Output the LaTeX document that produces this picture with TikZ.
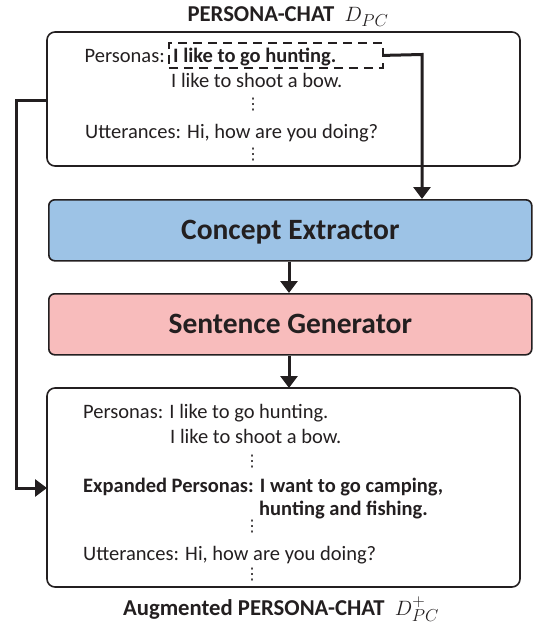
\documentclass[tikz,border=0pt]{standalone}
\usepackage{fontspec}
\setmainfont{Carlito}
\newfontfamily\dotsfont{DejaVu Sans}
\usetikzlibrary{arrows.meta}
\definecolor{ceblue}{HTML}{9DC3E6}
\definecolor{sgpink}{HTML}{F8BCBC}
\definecolor{ink}{HTML}{231F20}
\tikzset{
  x=1pt, y=-1pt,
  panel/.style={draw=ink, line width=1.6pt, rounded corners=8pt},
  modbox/.style={draw=ink, line width=1.6pt, rounded corners=6pt, font=\fontsize{29.5}{34}\selectfont\bfseries, text=ink, text height=19pt, text depth=0pt, inner sep=0pt},
  txt/.style={font=\fontsize{20.5}{24}\selectfont, text=ink, inner sep=0pt},
  btxt/.style={txt, font=\fontsize{20.5}{24}\selectfont\bfseries},
  ttl/.style={font=\fontsize{22.7}{26}\selectfont\bfseries, text=ink, inner sep=0pt},
  conn/.style={draw=ink, line width=3pt, -{Triangle[length=12pt,width=17pt]}},
  vd/.style={font=\dotsfont\fontsize{16}{16}\selectfont, text=ink, inner sep=0pt}
}
\begin{document}
\begin{tikzpicture}
\useasboundingbox (0,0) rectangle (533,626);
% titles
\node[ttl, anchor=base] (t1) at (288,22) {PERSONA-CHAT\ \ $D_{PC}$};
\node[ttl, anchor=base] (t2) at (281,615) {Augmented PERSONA-CHAT\ \ $D^{+}_{PC}$};
% top panel
\draw[panel] (47,32) rectangle (520,166);
\coordinate (topL) at (47,100);
\node[txt, anchor=base east] (p1) at (165,63) {Personas:};
\node[draw=ink, line width=1.8pt, dash pattern=on 9pt off 6pt, minimum width=214pt, minimum height=25pt, anchor=north west, inner sep=0pt] (dbox) at (168,42) {};
\node[btxt, anchor=base west] (p1b) at (173,63) {I like to go hunting.};
\node[txt, anchor=base west] (p2) at (171,88) {I like to shoot a bow.};
\node[vd] (d1) at (253,105) {⋮};
\node[txt, anchor=base west] (u1) at (85,138) {Utterances: Hi, how are you doing?};
\node[vd] (d2) at (253,155) {⋮};
% modules
\node[modbox, fill=ceblue, minimum width=483pt, minimum height=61pt, anchor=north west] (ce) at (48,199) {Concept Extractor};
\node[modbox, fill=sgpink, minimum width=483pt, minimum height=61pt, anchor=north west] (sg) at (48,293) {Sentence Generator};
% bottom panel
\draw[panel] (47,388) rectangle (520,587);
\coordinate (botTop) at (289,388);
\coordinate (botL) at (47,488);
\node[txt, anchor=base west] (q1) at (83,418) {Personas: I like to go hunting.};
\node[txt, anchor=base west] (q2) at (170,443) {I like to shoot a bow.};
\node[vd] (e1) at (252,462) {⋮};
\node[btxt, anchor=base west] (q3) at (83,492) {Expanded Personas: I want to go camping,};
\node[btxt, anchor=base west] (q4) at (259,515) {hunting and fishing.};
\node[vd] (e2) at (252,527) {⋮};
\node[txt, anchor=base west] (q5) at (83,560) {Utterances: Hi, how are you doing?};
\node[vd] (e3) at (252,575) {⋮};
% connectors
\draw[conn] (dbox.east) -- (422,54.5) -- (ce.north -| 422,0);
\draw[conn] (ce.south -| botTop) -- (sg.north -| botTop);
\draw[conn] (sg.south -| botTop) -- (botTop);
\draw[conn] (topL) -- (16,100) -- (16,488) -- (botL);
\end{tikzpicture}
\end{document}
